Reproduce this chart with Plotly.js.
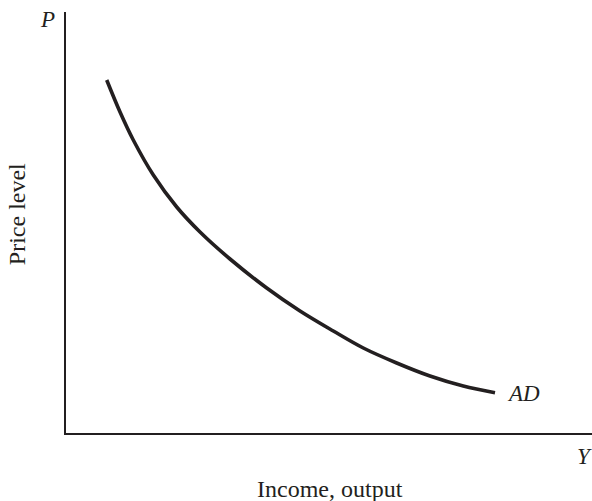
<!DOCTYPE html>
<html>
<head>
<meta charset="utf-8">
<script src="https://cdn.plot.ly/plotly-3.0.1.min.js"></script>
<style>
html,body{margin:0;padding:0;background:#fff;}
#chart{width:592px;height:501px;}
</style>
</head>
<body>
<div id="chart"></div>
<script>
// Aggregate demand curve (income/output vs price level)
const incomeOutput = [7.74, 10.27, 12.79, 16.60, 21.05, 25.48, 31.18, 38.16, 44.49, 50.82, 56.52, 62.87, 69.20, 75.53, 81.56];
const priceLevel   = [83.85, 76.25, 69.60, 61.28, 53.68, 47.74, 41.33, 34.44, 28.98, 24.23, 20.19, 16.63, 13.54, 11.16, 9.57];
const curveLabel = "AD";
const xAxisLetter = "Y";
const yAxisLetter = "P";
const xAxisTitle = "Income, output";
const yAxisTitle = "Price level";

const serif = "Liberation Serif, Times New Roman, serif";
const ink = "#231f20";

const trace = {
  x: incomeOutput,
  y: priceLevel,
  mode: "lines",
  line: {color: ink, width: 3.6, shape: "spline", smoothing: 1},
  hoverinfo: "skip",
  showlegend: false
};

const layout = {
  width: 592,
  height: 501,
  margin: {l: 66, r: 0, t: 12, b: 68, pad: 0},
  paper_bgcolor: "#fff",
  plot_bgcolor: "#fff",
  xaxis: {
    range: [0, 100], showgrid: false, zeroline: false, showticklabels: false, ticks: "",
    showline: true, linecolor: ink, linewidth: 1.8, fixedrange: true
  },
  yaxis: {
    range: [0, 100], showgrid: false, zeroline: false, showticklabels: false, ticks: "",
    showline: true, linecolor: ink, linewidth: 1.8, fixedrange: true
  },
  annotations: [
    {text: "<i>" + curveLabel + "</i>", x: incomeOutput[incomeOutput.length-1], y: priceLevel[priceLevel.length-1],
     xref: "x", yref: "y", xanchor: "left", yanchor: "middle", xshift: 10, yshift: -1, showarrow: false,
     font: {family: serif, size: 23, color: ink}},
    {text: "<i>" + yAxisLetter + "</i>", x: -0.036, y: 0.981, xref: "paper", yref: "paper",
     xanchor: "center", yanchor: "middle", showarrow: false, font: {family: serif, size: 23, color: ink}},
    {text: "<i>" + xAxisLetter + "</i>", x: 0.985, y: -0.057, xref: "paper", yref: "paper",
     xanchor: "center", yanchor: "middle", showarrow: false, font: {family: serif, size: 23, color: ink}},
    {text: xAxisTitle, x: 0.502, y: -0.132, xref: "paper", yref: "paper",
     xanchor: "center", yanchor: "middle", showarrow: false, font: {family: serif, size: 24, color: ink}},
    {text: yAxisTitle, x: -0.093, y: 0.520, xref: "paper", yref: "paper", textangle: -90,
     xanchor: "center", yanchor: "middle", showarrow: false, font: {family: serif, size: 24, color: ink}}
  ]
};

Plotly.newPlot("chart", [trace], layout, {displayModeBar: false, staticPlot: true});
</script>
</body>
</html>
